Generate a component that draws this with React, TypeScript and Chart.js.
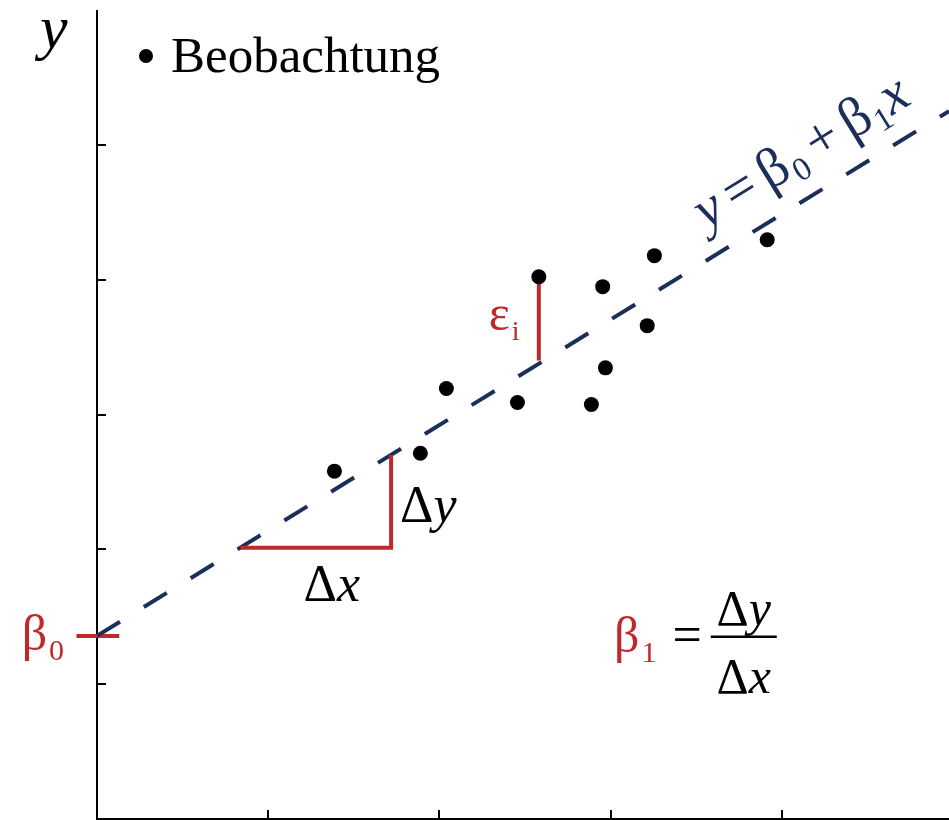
import { useEffect, useRef } from "react";
import { Chart, registerables } from "chart.js";
Chart.register(...registerables);

// observations
const obsX = [1.387, 1.889, 2.041, 2.456, 2.581, 2.888, 2.954, 2.970, 3.214, 3.256, 3.915];
const obsY = [2.580, 2.713, 3.193, 3.089, 4.022, 3.074, 3.948, 3.346, 3.659, 4.178, 4.296];
// regression line endpoints
const fitX = [0, 4.977];
const fitY = [1.358, 5.25];
// red helper segments
const b0TickX = [-0.12, 0.13];
const b0TickY = [1.358, 1.358];
const triX = [0.838, 1.718, 1.718];
const triY = [2.012, 2.012, 2.7];
const resX = [2.581, 2.581];
const resY = [4.022, 3.4];
// tick values
const xTicks = [1, 2, 3, 4];
const yTicks = [1, 2, 3, 4, 5];

const NAVY = "#1c2f5a";
const RED = "#c0292c";
const SERIF = '"Liberation Serif", "DejaVu Serif", serif';

type Part = { t: string; f: string; c: string; dy?: number; gap?: number };
function drawParts(ctx: CanvasRenderingContext2D, x: number, y: number, parts: Part[]) {
  let cx = x;
  for (const p of parts) {
    ctx.font = p.f;
    ctx.fillStyle = p.c;
    ctx.fillText(p.t, cx, y + (p.dy || 0));
    cx += ctx.measureText(p.t).width + (p.gap || 0);
  }
  return cx;
}
function widthOf(ctx: CanvasRenderingContext2D, parts: Part[]) {
  let w = 0;
  for (const p of parts) {
    ctx.font = p.f;
    w += ctx.measureText(p.t).width + (p.gap || 0);
  }
  return w;
}

const axisPlugin = {
  id: "axes",
  beforeDatasetsDraw(chart: any) {
    const { ctx, chartArea, scales } = chart;
    const xs = scales.x, ys = scales.y;
    ctx.save();
    ctx.strokeStyle = "#000";
    ctx.lineWidth = 2;
    ctx.beginPath();
    ctx.moveTo(chartArea.left, chartArea.top);
    ctx.lineTo(chartArea.left, chartArea.bottom);
    ctx.lineTo(chartArea.right, chartArea.bottom);
    ctx.stroke();
    ctx.beginPath();
    for (const v of yTicks) {
      const py = Math.round(ys.getPixelForValue(v));
      ctx.moveTo(chartArea.left, py);
      ctx.lineTo(chartArea.left + 9, py);
    }
    for (const v of xTicks) {
      const px = Math.round(xs.getPixelForValue(v));
      ctx.moveTo(px, chartArea.bottom);
      ctx.lineTo(px, chartArea.bottom - 9);
    }
    ctx.stroke();
    ctx.restore();
  },
};

const textPlugin = {
  id: "texts",
  afterDraw(chart: any) {
    const { ctx, scales, chartArea } = chart;
    const xs = scales.x, ys = scales.y;
    const X = (v: number) => xs.getPixelForValue(v);
    const Y = (v: number) => ys.getPixelForValue(v);
    ctx.save();
    ctx.textBaseline = "alphabetic";
    ctx.textAlign = "left";

    // y axis label
    drawParts(ctx, chartArea.left - 57, chartArea.top + 38, [
      { t: "y", f: `italic 62px ${SERIF}`, c: "#000" },
    ]);

    // legend
    ctx.fillStyle = "#000";
    ctx.beginPath();
    ctx.arc(146, 56, 7, 0, Math.PI * 2);
    ctx.fill();
    drawParts(ctx, 171, 72, [{ t: "Beobachtung", f: `51px ${SERIF}`, c: "#000" }]);

    // rotated line label
    const x0 = X(fitX[0]), y0 = Y(fitY[0]), x1 = X(fitX[1]), y1 = Y(fitY[1]);
    const ang = Math.atan2(y1 - y0, x1 - x0);
    const t = (X(3.64) - x0) / (x1 - x0);
    const ax = x0 + (x1 - x0) * t;
    const ay = y0 + (y1 - y0) * t;
    const off = 26;
    ctx.save();
    ctx.translate(ax + off * Math.sin(ang), ay - off * Math.cos(ang));
    ctx.rotate(ang);
    drawParts(ctx, 0, 0, [
      { t: "y", f: `italic 56px ${SERIF}`, c: NAVY, gap: 9 },
      { t: "=", f: `56px ${SERIF}`, c: NAVY, gap: 9 },
      { t: "β", f: `56px ${SERIF}`, c: NAVY, gap: 2 },
      { t: "0", f: `33px ${SERIF}`, c: NAVY, dy: 9, gap: 9 },
      { t: "+", f: `56px ${SERIF}`, c: NAVY, gap: 9 },
      { t: "β", f: `56px ${SERIF}`, c: NAVY, gap: 1 },
      { t: "1", f: `33px ${SERIF}`, c: NAVY, dy: 9, gap: 1 },
      { t: "x", f: `italic 56px ${SERIF}`, c: NAVY },
    ]);
    ctx.restore();

    // beta0 label
    drawParts(ctx, X(-0.44), Y(1.25), [
      { t: "β", f: `50px ${SERIF}`, c: RED, gap: 2 },
      { t: "0", f: `30px ${SERIF}`, c: RED, dy: 10 },
    ]);

    // delta x, delta y
    const dx: Part[] = [
      { t: "Δ", f: `52px ${SERIF}`, c: "#000" },
      { t: "x", f: `italic 52px ${SERIF}`, c: "#000" },
    ];
    const mx = (X(triX[0]) + X(triX[1])) / 2 + 16;
    drawParts(ctx, mx - widthOf(ctx, dx) / 2, Y(1.615), dx);
    drawParts(ctx, X(triX[1]) + 9, Y(2.2), [
      { t: "Δ", f: `52px ${SERIF}`, c: "#000" },
      { t: "y", f: `italic 52px ${SERIF}`, c: "#000" },
    ]);

    // epsilon
    drawParts(ctx, X(resX[0]) - 50, Y(3.63), [
      { t: "ε", f: `50px ${SERIF}`, c: RED, gap: 2 },
      { t: "i", f: `28px ${SERIF}`, c: RED, dy: 10 },
    ]);

    // beta1 = dy/dx
    const bx = X(3.02), by = Y(1.24);
    let cx = drawParts(ctx, bx, by, [
      { t: "β", f: `50px ${SERIF}`, c: RED, gap: 2 },
      { t: "1", f: `30px ${SERIF}`, c: RED, dy: 10, gap: 16 },
      { t: "=", f: `52px ${SERIF}`, c: "#000", gap: 9 },
    ]);
    const barW = 66;
    const barY = by - 15;
    ctx.strokeStyle = "#000";
    ctx.lineWidth = 2.5;
    ctx.beginPath();
    ctx.moveTo(cx, barY);
    ctx.lineTo(cx + barW, barY);
    ctx.stroke();
    const num: Part[] = [
      { t: "Δ", f: `50px ${SERIF}`, c: "#000" },
      { t: "y", f: `italic 50px ${SERIF}`, c: "#000" },
    ];
    const den: Part[] = [
      { t: "Δ", f: `50px ${SERIF}`, c: "#000" },
      { t: "x", f: `italic 50px ${SERIF}`, c: "#000" },
    ];
    drawParts(ctx, cx + barW / 2 - widthOf(ctx, num) / 2, barY - 12, num);
    drawParts(ctx, cx + barW / 2 - widthOf(ctx, den) / 2, barY + 56, den);
    ctx.restore();
  },
};

export default function App() {
  const ref = useRef<HTMLCanvasElement>(null);
  useEffect(() => {
    const canvas = ref.current!;
    const pts = (xs: number[], ys: number[]) => xs.map((x, i) => ({ x, y: ys[i] }));
    const chart = new Chart(canvas, {
      type: "scatter",
      data: {
        datasets: [
          {
            label: "Beobachtung",
            data: pts(obsX, obsY),
            backgroundColor: "#000",
            borderWidth: 0,
            pointRadius: 7.5,
            order: 0,
          } as any,
          {
            type: "line",
            label: "fit",
            data: pts(fitX, fitY),
            borderColor: NAVY,
            borderWidth: 4,
            borderDash: [27, 28],
            pointRadius: 0,
            fill: false,
            order: 2,
          } as any,
          {
            type: "line",
            label: "b0",
            data: pts(b0TickX, b0TickY),
            borderColor: RED,
            borderWidth: 4,
            pointRadius: 0,
            fill: false,
            clip: false,
            order: 3,
          } as any,
          {
            type: "line",
            label: "tri",
            data: pts(triX, triY),
            borderColor: RED,
            borderWidth: 4,
            pointRadius: 0,
            fill: false,
            order: 1,
          } as any,
          {
            type: "line",
            label: "res",
            data: pts(resX, resY),
            borderColor: RED,
            borderWidth: 4,
            pointRadius: 0,
            fill: false,
            order: 1,
          } as any,
        ],
      },
      options: {
        animation: false,
        responsive: false,
        devicePixelRatio: 1,
        events: [],
        layout: { autoPadding: false, padding: { left: 97, top: 10, right: 0, bottom: 1 } },
        scales: {
          x: { type: "linear", min: 0, max: 4.977, display: false },
          y: { type: "linear", min: 0, max: 6, display: false },
        },
        plugins: { legend: { display: false }, tooltip: { enabled: false } },
      },
      plugins: [axisPlugin, textPlugin],
    });
    return () => chart.destroy();
  }, []);
  return (
    <div style={{ position: "absolute", left: 0, top: 0, width: 949, height: 820, background: "#fff" }}>
      <canvas ref={ref} width={949} height={820} style={{ display: "block" }} />
    </div>
  );
}
